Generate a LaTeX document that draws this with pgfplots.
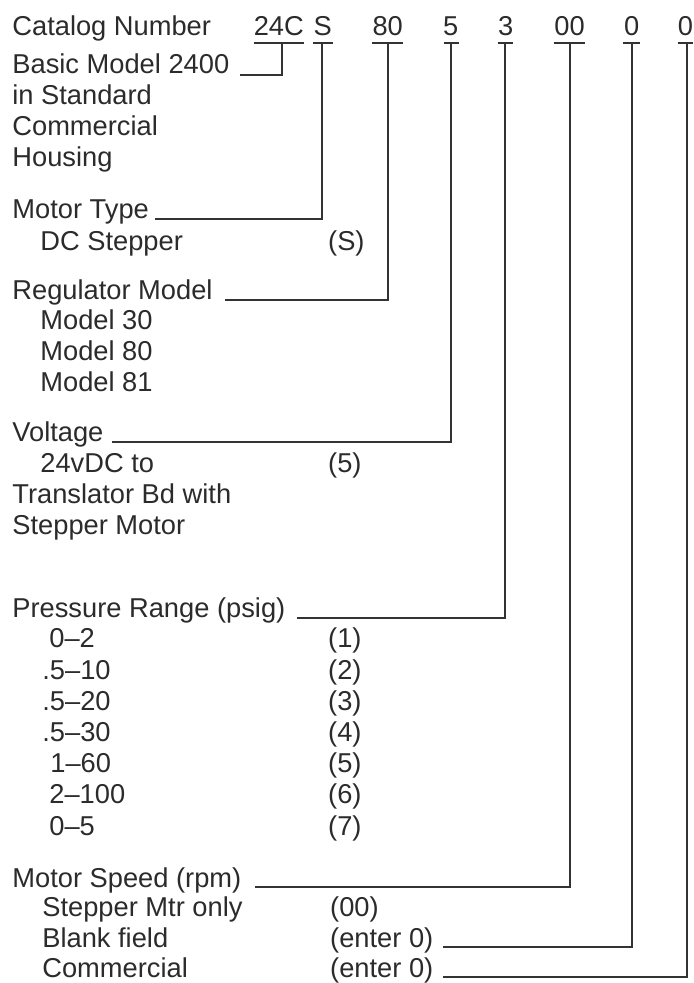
\documentclass[border=0pt]{standalone}
\usepackage{pgfplots}
\pgfplotsset{compat=1.18}
\usepackage{fontspec}
\setmainfont{Liberation Sans}
\definecolor{txt}{HTML}{2B2B2B}
\definecolor{ln}{HTML}{333333}
\tikzset{
  lbl/.style={anchor=base west, inner sep=0pt, text=txt, font=\fontsize{13.65}{16}\selectfont},
  code/.style={anchor=base, inner sep=0pt, text=txt, font=\fontsize{13.65}{16}\selectfont},
}
\pgfplotsset{conn/.style={draw=ln, line width=1pt, solid, no markers}}
\begin{document}
\begin{tikzpicture}
\begin{axis}[
  scale only axis, width=346.5pt, height=491.5pt,
  xmin=0, xmax=693, ymin=0, ymax=983, y dir=reverse,
  hide axis, clip=false,
]
\path (axis cs:0,0) rectangle (axis cs:693,983);
% underlines
\addplot[conn] coordinates {(254,43) (304,43)};
\addplot[conn] coordinates {(313,43) (333,43)};
\addplot[conn] coordinates {(372,43) (403,43)};
\addplot[conn] coordinates {(444,43) (459,43)};
\addplot[conn] coordinates {(498,43) (513,43)};
\addplot[conn] coordinates {(554,43) (585,43)};
\addplot[conn] coordinates {(623,43) (640,43)};
\addplot[conn] coordinates {(678,43) (693,43)};
% connectors
\addplot[conn] coordinates {(282,43) (282,75) (240,75)};
\addplot[conn] coordinates {(322,43) (322,219) (155,219)};
\addplot[conn] coordinates {(388,43) (388,300) (225,300)};
\addplot[conn] coordinates {(451,43) (451,442) (112,442)};
\addplot[conn] coordinates {(505,43) (505,618) (297,618)};
\addplot[conn] coordinates {(570,43) (570,888) (255,888)};
\addplot[conn] coordinates {(632,43) (632,948) (443,948)};
\addplot[conn] coordinates {(687,43) (687,978) (443,978)};
% codes
\node[code] at (axis cs:279,36) {24C};
\node[code] at (axis cs:323,36) {S};
\node[code] at (axis cs:388,36) {80};
\node[code] at (axis cs:451,36) {5};
\node[code] at (axis cs:506,36) {3};
\node[code] at (axis cs:570,36) {00};
\node[code] at (axis cs:632,36) {0};
\node[code] at (axis cs:686,36) {0};
% labels
\node[lbl] at (axis cs:12,36) {Catalog Number};
\node[lbl] at (axis cs:12,74) {Basic Model 2400};
\node[lbl] at (axis cs:12,105) {in Standard};
\node[lbl] at (axis cs:12,136) {Commercial};
\node[lbl] at (axis cs:12,167) {Housing};
\node[lbl] at (axis cs:12,219) {Motor Type};
\node[lbl] at (axis cs:40,251) {DC Stepper};
\node[lbl] at (axis cs:328,251) {(S)};
\node[lbl] at (axis cs:12,300) {Regulator Model};
\node[lbl] at (axis cs:40,330) {Model 30};
\node[lbl] at (axis cs:40,361) {Model 80};
\node[lbl] at (axis cs:40,392) {Model 81};
\node[lbl] at (axis cs:12,442) {Voltage};
\node[lbl] at (axis cs:40,473) {24vDC to};
\node[lbl] at (axis cs:328,473) {(5)};
\node[lbl] at (axis cs:12,504) {Translator Bd with};
\node[lbl] at (axis cs:12,535) {Stepper Motor};
\node[lbl] at (axis cs:12,618) {Pressure Range (psig)};
\node[lbl] at (axis cs:49,648) {0–2};
\node[lbl] at (axis cs:42,679.5) {.5–10};
\node[lbl] at (axis cs:42,711) {.5–20};
\node[lbl] at (axis cs:42,742) {.5–30};
\node[lbl] at (axis cs:50,773) {1–60};
\node[lbl] at (axis cs:49,804.5) {2–100};
\node[lbl] at (axis cs:49,836) {0–5};
\node[lbl] at (axis cs:328,648) {(1)};
\node[lbl] at (axis cs:328,679.5) {(2)};
\node[lbl] at (axis cs:328,711) {(3)};
\node[lbl] at (axis cs:328,742) {(4)};
\node[lbl] at (axis cs:328,773) {(5)};
\node[lbl] at (axis cs:328,804.5) {(6)};
\node[lbl] at (axis cs:328,836) {(7)};
\node[lbl] at (axis cs:12,888) {Motor Speed (rpm)};
\node[lbl] at (axis cs:42,917) {Stepper Mtr only};
\node[lbl] at (axis cs:42,948) {Blank field};
\node[lbl] at (axis cs:42,978) {Commercial};
\node[lbl] at (axis cs:330,917) {(00)};
\node[lbl] at (axis cs:330,948) {(enter 0)};
\node[lbl] at (axis cs:330,978) {(enter 0)};
\end{axis}
\end{tikzpicture}
\end{document}
